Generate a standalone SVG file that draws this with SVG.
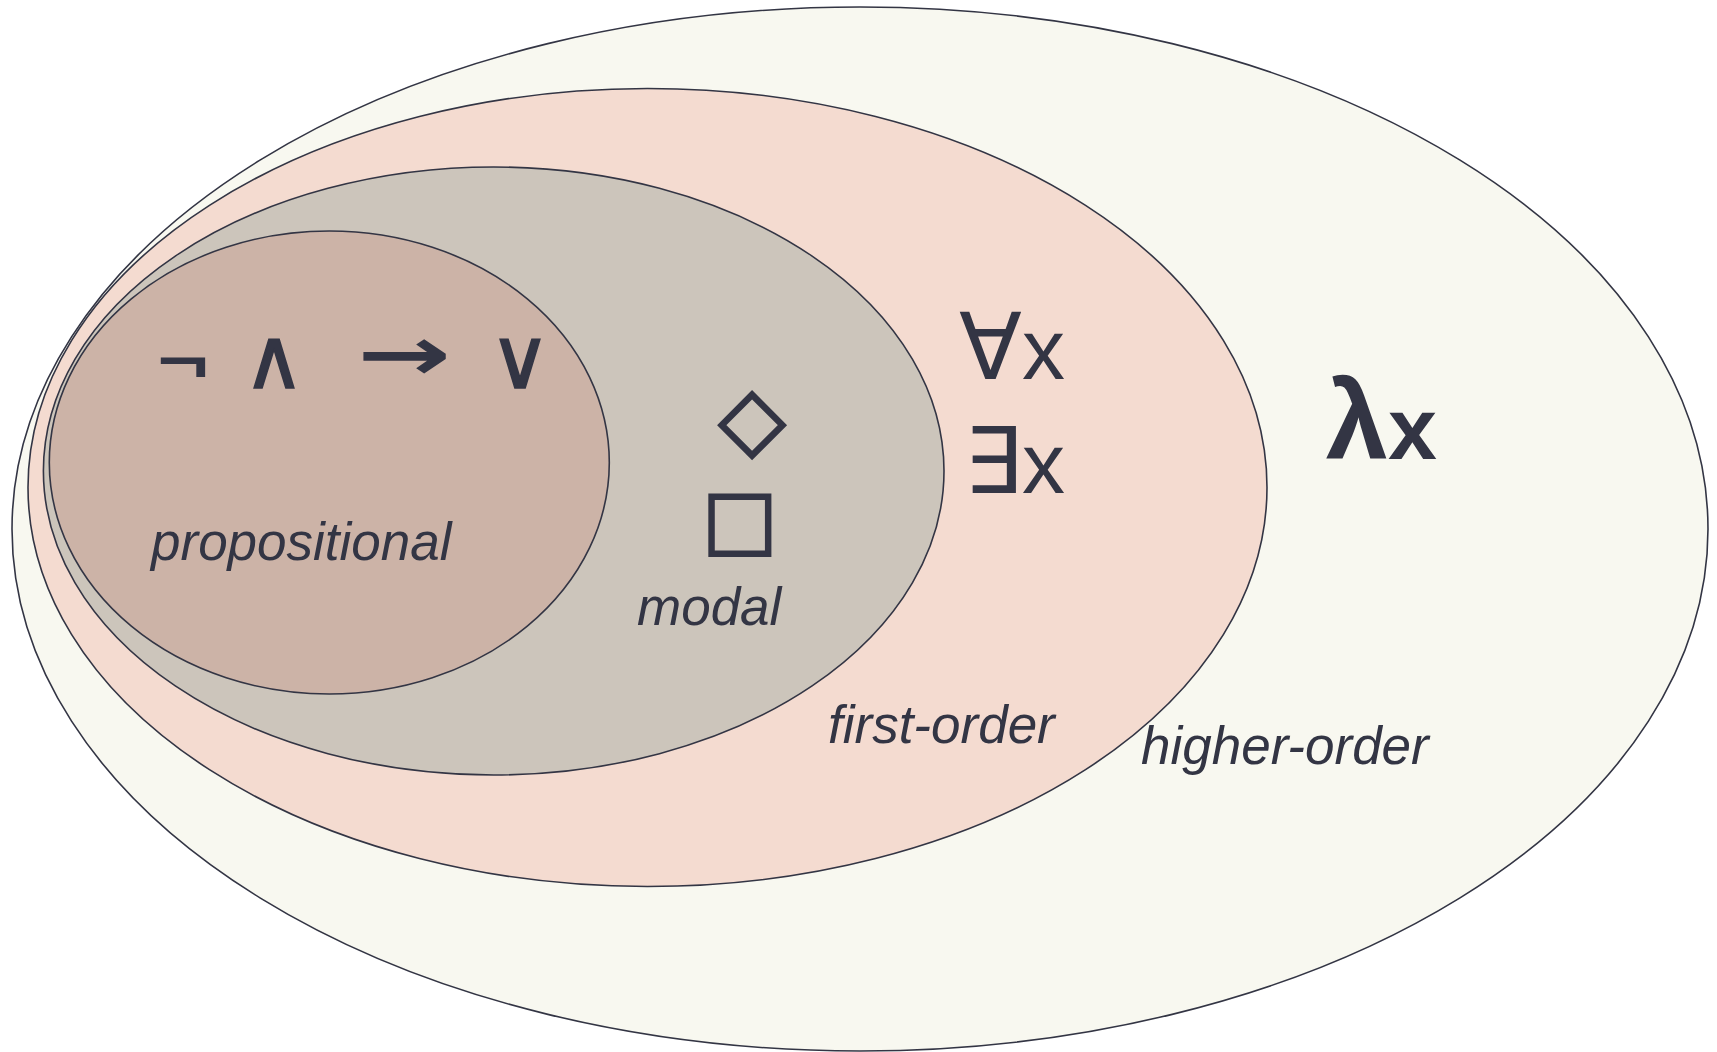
<svg xmlns="http://www.w3.org/2000/svg" width="1717" height="1052" viewBox="0 0 1717 1052">
  <style>
    .ring { stroke: #333544; stroke-width: 1.6; }
    .label { font-family: "Liberation Sans", Arial, sans-serif; font-style: italic; font-size: 53px; fill: #333544; }
    .sym { font-family: "DejaVu Sans", "Liberation Sans", sans-serif; fill: #333544; }
    .lat { font-family: "Liberation Sans", Arial, sans-serif; }
  </style>
  <rect width="1717" height="1052" fill="#ffffff"/>

  <!-- higher-order logic -->
  <g id="higher-order">
    <ellipse class="ring" cx="860" cy="529" rx="848" ry="522" fill="#f8f8f0"/>
    <text class="label" x="1141" y="764">higher-order</text>
    <text class="sym" x="1437" y="459" font-weight="bold" text-anchor="end"><tspan class="lat" font-size="112">λ</tspan><tspan class="lat" font-size="88">x</tspan></text>
  </g>

  <!-- first-order logic -->
  <g id="first-order">
    <ellipse class="ring" cx="647.5" cy="487.5" rx="619.5" ry="399" fill="#f4dbd0"/>
    <text class="label" x="828" y="743">first-order</text>
    <text class="sym" x="1065" y="379" text-anchor="end"><tspan font-size="92">∀</tspan><tspan class="lat" font-size="86">x</tspan></text>
    <text class="sym" x="1065" y="493" text-anchor="end"><tspan font-size="92">∃</tspan><tspan class="lat" font-size="86">x</tspan></text>
  </g>

  <!-- modal logic -->
  <g id="modal">
    <ellipse class="ring" cx="493.7" cy="471" rx="450.3" ry="304" fill="#ccc5bb"/>
    <text class="label" x="637" y="625">modal</text>
    <text class="sym" x="752" y="447.5" font-size="88" text-anchor="middle" stroke="#333544" stroke-width="2">◇</text>
    <text class="sym" x="740" y="546" font-size="80" text-anchor="middle" stroke="#333544" stroke-width="2">□</text>
  </g>

  <!-- propositional logic -->
  <g id="propositional">
    <ellipse class="ring" cx="329.3" cy="462.5" rx="280" ry="231.5" fill="#ccb3a7"/>
    <text class="label" x="151" y="560">propositional</text>
    <g class="sym" text-anchor="middle">
      <text class="lat" transform="translate(183 381) scale(1.38 1)" font-size="62" stroke="#333544" stroke-width="2">¬</text>
      <text x="274" y="388" font-size="84" stroke="#333544" stroke-width="1.5">∧</text>
      <text transform="translate(404 380) scale(1.48 1)" font-size="76" font-weight="bold">→</text>
      <text x="520" y="388" font-size="84" stroke="#333544" stroke-width="1.5">∨</text>
    </g>
  </g>
</svg>
